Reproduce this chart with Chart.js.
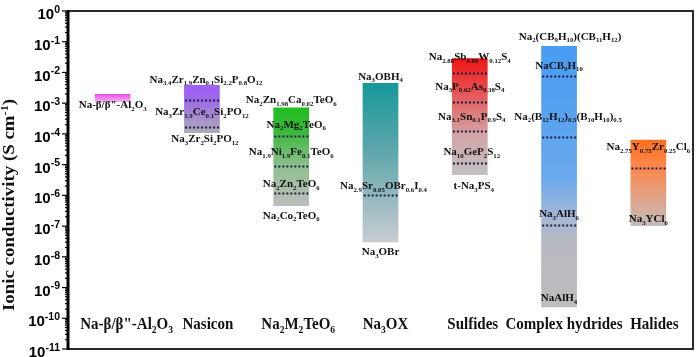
<!DOCTYPE html>
<html>
<head>
<meta charset="utf-8">
<script src="https://cdn.jsdelivr.net/npm/chart.js@4.4.1/dist/chart.umd.min.js"></script>
<style>
  html, body { margin: 0; padding: 0; background: #fff; }
  #wrap { width: 700px; height: 357px; }
</style>
</head>
<body>
<div id="wrap"><canvas id="graficoCondutividade"></canvas></div>
<script>
// categorias (markup: _{..} subscrito, ^{..} sobrescrito)
const categories = ['Na-β/β"-Al_{2}O_{3}', 'Nasicon', 'Na_{2}M_{2}TeO_{6}', 'Na_{3}OX', 'Sulfides', 'Complex hydrides', 'Halides'];

// faixa de condutividade (S cm-1) de cada familia
const barLow  = [1.1e-3, 1.07e-4, 4.5e-7, 3.0e-8, 4.6e-6, 2.3e-10, 1.0e-7];
const barHigh = [2.0e-3, 3.9e-3, 7.2e-4, 4.5e-3, 2.9e-2, 7.2e-2, 6.5e-5];

// linhas pontilhadas (materiais individuais)
const dottedLevels = [
  [],
  [1.26e-3, 1.66e-4],
  [8.7e-5, 9.1e-6, 1.2e-6],
  [1.0e-6],
  [9.3e-3, 1.1e-3, 1.2e-4, 1.1e-5],
  [7.6e-3, 7.9e-5, 1.07e-7],
  [7.7e-6]
];

// rotulos dos materiais
const labelCat = [0, 1, 1, 1, 2, 2, 2, 2, 2, 3, 3, 3, 4, 4, 4, 4, 4, 5, 5, 5, 5, 5, 6, 6];
const labelVal = [9.3e-4, 6.2e-3, 5.5e-4, 7.2e-5, 1.35e-3, 2.1e-4, 2.75e-5, 2.5e-6, 2.3e-7,
                  7.6e-3, 2.1e-6, 1.5e-8, 3.4e-2, 3.6e-3, 3.8e-4, 2.75e-5, 2.1e-6,
                  0.155, 1.74e-2, 3.8e-4, 2.6e-7, 4.8e-10, 4.0e-5, 1.8e-7];
const labelText = [
  'Na-β/β"-Al_{2}O_{3}',
  'Na_{3.4}Zr_{1.9}Zn_{0.1}Si_{2.2}P_{0.8}O_{12}', 'Na_{3}Zr_{1.9}Ce_{0.1}Si_{2}PO_{12}', 'Na_{3}Zr_{2}Si_{2}PO_{12}',
  'Na_{2}Zn_{1.98}Ca_{0.02}TeO_{6}', 'Na_{2}Mg_{2}TeO_{6}', 'Na_{1.9}Ni_{1.9}Fe_{0.1}TeO_{6}', 'Na_{2}Zn_{2}TeO_{6}', 'Na_{2}Co_{2}TeO_{6}',
  'Na_{3}OBH_{4}', 'Na_{2.9}Sr_{0.05}OBr_{0.6}I_{0.4}', 'Na_{3}OBr',
  'Na_{2.88}Sb_{0.88}W_{0.12}S_{4}', 'Na_{3}P_{0.62}As_{0.38}S_{4}', 'Na_{3.1}Sn_{0.1}P_{0.9}S_{4}', 'Na_{10}GeP_{2}S_{12}', 't-Na_{3}PS_{4}',
  'Na_{2}(CB_{9}H_{10})(CB_{11}H_{12})', 'NaCB_{9}H_{10}', 'Na_{2}(B_{12}H_{12})_{0.5}(B_{10}H_{10})_{0.5}', 'Na_{3}AlH_{6}', 'NaAlH_{4}',
  'Na_{2.75}Y_{0.75}Zr_{0.25}Cl_{6}', 'Na_{3}YCl_{6}'
];

// eixo Y
const yTickValues = [1, 1e-1, 1e-2, 1e-3, 1e-4, 1e-5, 1e-6, 1e-7, 1e-8, 1e-9, 1e-10, 1e-11];
const yTickLabels = ['10^{0}', '10^{-1}', '10^{-2}', '10^{-3}', '10^{-4}', '10^{-5}', '10^{-6}', '10^{-7}', '10^{-8}', '10^{-9}', '10^{-10}', '10^{-11}'];

// cores (degrade de cima para baixo)
const barGradients = [
  [[0, '#ea4ee9'], [1, '#f2b2f2']],
  [[0, '#a05ef4'], [0.3, '#9d68ea'], [1, '#aeacb6']],
  [[0, '#1fbf1f'], [0.25, '#3cb83c'], [0.6, '#8fc08f'], [1, '#bdbdbd']],
  [[0, '#169899'], [0.45, '#62a8ad'], [1, '#c8ccd2']],
  [[0, '#f01414'], [0.25, '#e84a4a'], [0.65, '#d4a4a6'], [1, '#c2c0c2']],
  [[0, '#489cf2'], [0.5, '#68a8ee'], [0.66, '#a8b8d4'], [0.76, '#b8b9c0'], [1, '#bdbdbf']],
  [[0, '#ff7020'], [0.35, '#fa8a50'], [1, '#c4bcbc']]
];

const SERIF = '"Liberation Serif", "Times New Roman", serif';
const SANS = '"Liberation Sans", Arial, sans-serif';

function richParts(s) {
  const parts = [];
  const re = /([_^])\{([^}]*)\}/g;
  let last = 0, m;
  while ((m = re.exec(s))) {
    if (m.index > last) parts.push({ t: s.slice(last, m.index), k: '' });
    parts.push({ t: m[2], k: m[1] });
    last = re.lastIndex;
  }
  if (last < s.length) parts.push({ t: s.slice(last), k: '' });
  return parts;
}

// desenha texto com subscritos/sobrescritos, y = centro vertical
function drawRich(ctx, s, x, y, o) {
  const parts = richParts(s);
  const small = o.size * (o.small || 0.64);
  let w = 0;
  parts.forEach(p => {
    ctx.font = 'bold ' + (p.k ? small : o.size) + 'px ' + o.family;
    p.w = ctx.measureText(p.t).width;
    w += p.w;
  });
  let cx = o.align === 'right' ? -w : (o.align === 'left' ? 0 : -w / 2);
  ctx.save();
  ctx.translate(x, y);
  if (o.rot) ctx.rotate(o.rot);
  ctx.scale(o.sx || 1, o.sy || 1);
  ctx.textBaseline = 'alphabetic';
  ctx.textAlign = 'left';
  ctx.fillStyle = o.color || '#111';
  const base = o.size * 0.34;
  parts.forEach(p => {
    ctx.font = 'bold ' + (p.k ? small : o.size) + 'px ' + o.family;
    const dy = p.k === '_' ? o.size * 0.24 : (p.k === '^' ? -o.size * 0.42 : 0);
    ctx.fillText(p.t, cx, base + dy);
    cx += p.w;
  });
  ctx.restore();
}

const decoracoes = {
  id: 'decoracoes',
  afterDatasetsDraw(chart, args, opts) {
    const ctx = chart.ctx;
    const area = chart.chartArea;
    const y = chart.scales.y;
    const meta = chart.getDatasetMeta(0);

    // linhas pontilhadas
    ctx.save();
    ctx.strokeStyle = '#1c1c48';
    ctx.lineWidth = 2;
    ctx.setLineDash([2, 2]);
    dottedLevels.forEach((lvls, i) => {
      const bar = meta.data[i];
      lvls.forEach(v => {
        const py = Math.round(y.getPixelForValue(v)) + 0.5;
        ctx.beginPath();
        ctx.moveTo(bar.x - bar.width / 2 + 1, py);
        ctx.lineTo(bar.x + bar.width / 2, py);
        ctx.stroke();
      });
    });
    ctx.restore();

    // rotulos dos materiais
    labelText.forEach((t, i) => {
      const bar = meta.data[labelCat[i]];
      const nudge = opts.labelNudge[i] || 0;
      drawRich(ctx, t, bar.x + nudge, y.getPixelForValue(labelVal[i]), { size: 11, family: SERIF, small: 0.62 });
    });

    // rotulos das categorias (dentro da area do grafico)
    categories.forEach((c, i) => {
      const bar = meta.data[i];
      drawRich(ctx, c, bar.x + opts.catShift[i], area.bottom - 26, { size: 15, family: SERIF, sy: 1.1 });
    });

    // moldura
    ctx.save();
    ctx.strokeStyle = '#2a2a2a';
    ctx.lineWidth = 2;
    ctx.beginPath();
    ctx.moveTo(area.left, area.top);
    ctx.lineTo(area.right, area.top);
    ctx.lineTo(area.right, area.bottom);
    ctx.lineTo(area.left, area.bottom);
    ctx.stroke();

    // eixo Y com marcas
    ctx.strokeStyle = '#000';
    ctx.lineWidth = 3;
    ctx.beginPath();
    ctx.moveTo(area.left, area.top - 1);
    ctx.lineTo(area.left, area.bottom + 1);
    ctx.stroke();
    ctx.lineWidth = 1.2;
    yTickValues.forEach((v, i) => {
      const py = y.getPixelForValue(v);
      ctx.beginPath();
      ctx.moveTo(area.left, py);
      ctx.lineTo(area.left - 6, py);
      ctx.stroke();
      if (i < yTickValues.length - 1) {
        for (let k = 2; k <= 9; k++) {
          const pm = y.getPixelForValue(yTickValues[i + 1] * k);
          ctx.beginPath();
          ctx.moveTo(area.left, pm);
          ctx.lineTo(area.left - 3, pm);
          ctx.stroke();
        }
      }
      drawRich(ctx, yTickLabels[i], area.left - 8, py + 3, { size: 15, family: SANS, small: 0.7, align: 'right', color: '#000' });
    });
    ctx.restore();

    // titulo do eixo Y
    drawRich(ctx, 'Ionic conductivity (S cm^{-1})', 9, 205, { size: 16, family: SERIF, rot: -Math.PI / 2, sx: 1.18, small: 0.65 });
  }
};

const ctx = document.getElementById('graficoCondutividade').getContext('2d');

new Chart(ctx, {
  type: 'bar',
  data: {
    labels: categories,
    datasets: [{
      label: 'Ionic conductivity',
      data: barLow.map((lo, i) => [lo, barHigh[i]]),
      backgroundColor: (c) => {
        const chart = c.chart;
        if (!chart.chartArea || c.dataIndex === undefined) return '#ccc';
        const ys = chart.scales.y;
        const i = c.dataIndex;
        const top = ys.getPixelForValue(barHigh[i]);
        const bot = ys.getPixelForValue(barLow[i]);
        const g = chart.ctx.createLinearGradient(0, top, 0, bot);
        barGradients[i].forEach(s => g.addColorStop(s[0], s[1]));
        return g;
      },
      borderWidth: 0,
      categoryPercentage: 1.0,
      barPercentage: 0.4
    }]
  },
  options: {
    responsive: true,
    maintainAspectRatio: false,
    animation: false,
    layout: { padding: { left: 0, top: 11, right: 7, bottom: 8 } },
    plugins: {
      legend: { display: false },
      tooltip: { enabled: false },
      decoracoes: {
        catShift: [14, 6, 7, 5, 3, 5, 6],
        labelNudge: { 1: 4, 3: 3, 5: 5, 10: 3, 14: 2, 15: 2, 16: 4, 17: 11, 19: 9 }
      }
    },
    scales: {
      x: {
        grid: { display: false },
        border: { display: false },
        ticks: { display: false },
        afterFit: (s) => { s.height = 0; }
      },
      y: {
        type: 'logarithmic',
        min: 1e-11,
        max: 1,
        grid: { display: false },
        border: { display: false },
        ticks: { display: false },
        afterFit: (s) => { s.width = 68; }
      }
    }
  },
  plugins: [decoracoes]
});
</script>
</body>
</html>
